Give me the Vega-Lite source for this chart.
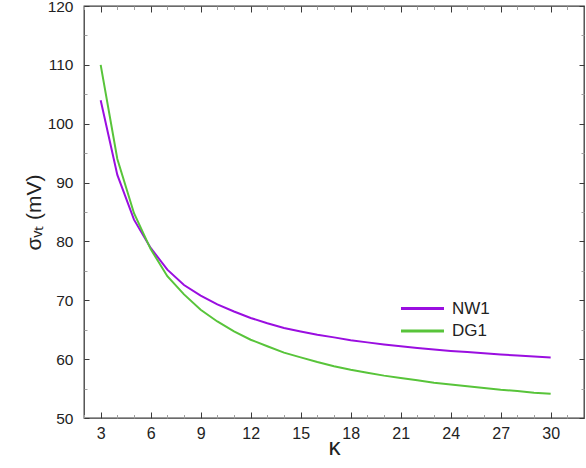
{
  "$schema": "https://vega.github.io/schema/vega-lite/v6.json",
  "width": 500,
  "height": 412,
  "autosize": {"type": "none"},
  "padding": {"left": 84, "top": 6, "right": 2, "bottom": 50},
  "background": "white",
  "config": {
    "view": {"stroke": "#3a3a3a", "strokeWidth": 1.3},
    "font": "Liberation Sans",
    "axis": {"grid": false, "labelFont": "Liberation Sans", "titleFont": "Liberation Sans"}
  },
  "data": {
    "values": [
      {"k": 3, "s": "NW1", "v": 104.0}, {"k": 4, "s": "NW1", "v": 91.3}, {"k": 5, "s": "NW1", "v": 83.7},
      {"k": 6, "s": "NW1", "v": 78.9}, {"k": 7, "s": "NW1", "v": 75.2}, {"k": 8, "s": "NW1", "v": 72.6},
      {"k": 9, "s": "NW1", "v": 70.8}, {"k": 10, "s": "NW1", "v": 69.3}, {"k": 11, "s": "NW1", "v": 68.1},
      {"k": 12, "s": "NW1", "v": 67.0}, {"k": 13, "s": "NW1", "v": 66.1}, {"k": 14, "s": "NW1", "v": 65.3},
      {"k": 15, "s": "NW1", "v": 64.7}, {"k": 16, "s": "NW1", "v": 64.15}, {"k": 17, "s": "NW1", "v": 63.7},
      {"k": 18, "s": "NW1", "v": 63.2}, {"k": 19, "s": "NW1", "v": 62.85}, {"k": 20, "s": "NW1", "v": 62.5},
      {"k": 21, "s": "NW1", "v": 62.2}, {"k": 22, "s": "NW1", "v": 61.9}, {"k": 23, "s": "NW1", "v": 61.65},
      {"k": 24, "s": "NW1", "v": 61.4}, {"k": 25, "s": "NW1", "v": 61.2}, {"k": 26, "s": "NW1", "v": 61.0},
      {"k": 27, "s": "NW1", "v": 60.8}, {"k": 28, "s": "NW1", "v": 60.6}, {"k": 29, "s": "NW1", "v": 60.45},
      {"k": 30, "s": "NW1", "v": 60.3},
      {"k": 3, "s": "DG1", "v": 110.0}, {"k": 4, "s": "DG1", "v": 94.0}, {"k": 5, "s": "DG1", "v": 84.8},
      {"k": 6, "s": "DG1", "v": 78.7}, {"k": 7, "s": "DG1", "v": 74.1}, {"k": 8, "s": "DG1", "v": 71.0},
      {"k": 9, "s": "DG1", "v": 68.4}, {"k": 10, "s": "DG1", "v": 66.4}, {"k": 11, "s": "DG1", "v": 64.7},
      {"k": 12, "s": "DG1", "v": 63.3}, {"k": 13, "s": "DG1", "v": 62.2}, {"k": 14, "s": "DG1", "v": 61.1},
      {"k": 15, "s": "DG1", "v": 60.3}, {"k": 16, "s": "DG1", "v": 59.5}, {"k": 17, "s": "DG1", "v": 58.8},
      {"k": 18, "s": "DG1", "v": 58.2}, {"k": 19, "s": "DG1", "v": 57.7}, {"k": 20, "s": "DG1", "v": 57.2},
      {"k": 21, "s": "DG1", "v": 56.8}, {"k": 22, "s": "DG1", "v": 56.4}, {"k": 23, "s": "DG1", "v": 56.0},
      {"k": 24, "s": "DG1", "v": 55.7}, {"k": 25, "s": "DG1", "v": 55.4}, {"k": 26, "s": "DG1", "v": 55.1},
      {"k": 27, "s": "DG1", "v": 54.8}, {"k": 28, "s": "DG1", "v": 54.6}, {"k": 29, "s": "DG1", "v": 54.3},
      {"k": 30, "s": "DG1", "v": 54.1}
    ]
  },
  "layer": [
    {
      "mark": {"type": "line", "strokeWidth": 2},
      "encoding": {
        "x": {"field": "k", "type": "quantitative",
              "scale": {"domain": [2, 32], "nice": false, "zero": false},
              "axis": {"orient": "bottom", "values": [3, 6, 9, 12, 15, 18, 21, 24, 27, 30], "ticks": false,
                       "domain": false,
                       "labelFontSize": 16, "labelColor": "#222", "labelPadding": 7,
                       "title": "κ", "titleFontSize": 24, "titleFontWeight": "normal", "titleColor": "#222",
                       "titleBaseline": "alphabetic", "titleY": 36}},
        "y": {"field": "v", "type": "quantitative",
              "scale": {"domain": [50, 120], "nice": false, "zero": false},
              "axis": {"orient": "left", "values": [50, 60, 70, 80, 90, 100, 110, 120], "ticks": false,
                       "domain": false,
                       "labelFontSize": 15.5, "labelColor": "#222", "labelPadding": 11,
                       "title": "σᵥₜ (mV)", "titleFontSize": 21, "titleFontWeight": "normal", "titleColor": "#222",
                       "titlePadding": 3}},
        "color": {"field": "s", "type": "nominal",
                  "scale": {"domain": ["NW1", "DG1"], "range": ["#9a0ee0", "#58c43a"]},
                  "legend": {"title": null, "orient": "none", "legendX": 326, "legendY": 290,
                             "symbolType": "M-2,0H2", "symbolSize": 462, "symbolStrokeWidth": 3,
                             "symbolFillColor": "transparent",
                             "labelFontSize": 17, "labelColor": "#222", "labelOffset": 17,
                             "padding": 0, "rowPadding": 1.5}}
      }
    },
    {
      "mark": {"type": "line", "opacity": 0},
      "encoding": {
        "x": {"field": "k", "type": "quantitative",
              "axis": {"orient": "bottom", "values": [3, 6, 9, 12, 15, 18, 21, 24, 27, 30], "labels": false,
                       "domain": false, "offset": -6, "tickSize": 6, "tickColor": "#3a3a3a", "title": null}},
        "y": {"field": "v", "type": "quantitative",
              "axis": {"orient": "left", "values": [50, 60, 70, 80, 90, 100, 110, 120], "labels": false,
                       "domain": false, "offset": -5, "tickSize": 5, "tickColor": "#3a3a3a", "title": null}}
      }
    },
    {
      "mark": {"type": "line", "opacity": 0},
      "encoding": {
        "x": {"field": "k", "type": "quantitative",
              "axis": {"orient": "bottom", "values": [2, 4, 5, 7, 8, 10, 11, 13, 14, 16, 17, 19, 20, 22, 23, 25, 26, 28, 29, 31], "labels": false,
                       "domain": false, "offset": -3.5, "tickSize": 3.5, "tickColor": "#a0a0a0", "title": null}},
        "y": {"field": "v", "type": "quantitative",
              "axis": {"orient": "left", "values": [55, 65, 75, 85, 95, 105, 115], "labels": false,
                       "domain": false, "offset": -3, "tickSize": 3, "tickColor": "#a0a0a0", "title": null}}
      }
    },
    {
      "mark": {"type": "line", "opacity": 0},
      "encoding": {
        "x": {"field": "k", "type": "quantitative",
              "axis": {"orient": "top", "values": [3, 6, 9, 12, 15, 18, 21, 24, 27, 30], "labels": false,
                       "domain": false, "offset": -6, "tickSize": 6, "tickColor": "#3a3a3a", "title": null}},
        "y": {"field": "v", "type": "quantitative",
              "axis": {"orient": "right", "values": [50, 60, 70, 80, 90, 100, 110, 120], "labels": false,
                       "domain": false, "offset": -5, "tickSize": 5, "tickColor": "#3a3a3a", "title": null}}
      }
    },
    {
      "mark": {"type": "line", "opacity": 0},
      "encoding": {
        "x": {"field": "k", "type": "quantitative",
              "axis": {"orient": "top", "values": [2, 4, 5, 7, 8, 10, 11, 13, 14, 16, 17, 19, 20, 22, 23, 25, 26, 28, 29, 31], "labels": false,
                       "domain": false, "offset": -3.5, "tickSize": 3.5, "tickColor": "#a0a0a0", "title": null}},
        "y": {"field": "v", "type": "quantitative",
              "axis": {"orient": "right", "values": [55, 65, 75, 85, 95, 105, 115], "labels": false,
                       "domain": false, "offset": -3, "tickSize": 3, "tickColor": "#a0a0a0", "title": null}}
      }
    }
  ],
  "resolve": {"axis": {"x": "independent", "y": "independent"}}
}
